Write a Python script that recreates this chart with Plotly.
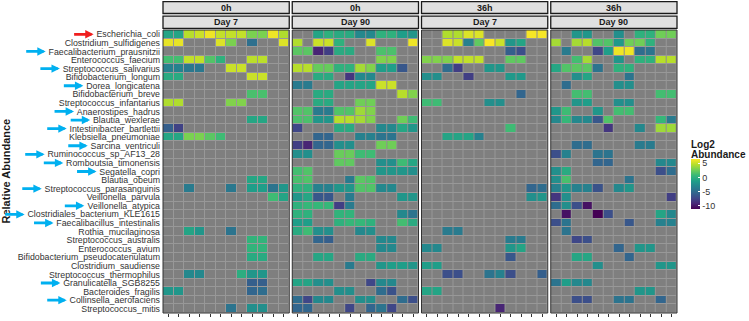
import plotly.graph_objects as go

N = None
species = [
    "Escherichia_coli", "Clostridium_sulfidigenes", "Faecalibacterium_prausnitzii",
    "Enterococcus_faecium", "Streptococcus_salivarius", "Bifidobacterium_longum",
    "Dorea_longicatena", "Bifidobacterium_breve", "Streptococcus_infantarius",
    "Anaerostipes_hadrus", "Blautia_wexlerae", "Intestinibacter_bartlettii",
    "Klebsiella_pneumoniae", "Sarcina_ventriculi", "Ruminococcus_sp_AF13_28",
    "Romboutsia_timonensis", "Segatella_copri", "Blautia_obeum",
    "Streptococcus_parasanguinis", "Veillonella_parvula", "Veillonella_atypica",
    "Clostridiales_bacterium_KLE1615", "Faecalibacillus_intestinalis", "Rothia_mucilaginosa",
    "Streptococcus_australis", "Enterococcus_avium", "Bifidobacterium_pseudocatenulatum",
    "Clostridium_saudiense", "Streptococcus_thermophilus", "Granulicatella_SGB8255",
    "Bacteroides_fragilis", "Collinsella_aerofaciens", "Streptococcus_mitis",
]
blue_arrow = ["Faecalibacterium_prausnitzii", "Streptococcus_salivarius", "Dorea_longicatena",
              "Anaerostipes_hadrus", "Blautia_wexlerae", "Intestinibacter_bartlettii",
              "Sarcina_ventriculi", "Ruminococcus_sp_AF13_28", "Romboutsia_timonensis",
              "Segatella_copri", "Streptococcus_parasanguinis", "Veillonella_atypica",
              "Clostridiales_bacterium_KLE1615", "Faecalibacillus_intestinalis",
              "Granulicatella_SGB8255", "Collinsella_aerofaciens"]
red_arrow = ["Escherichia_coli"]

time_labels = ["0h", "0h", "36h", "36h"]
day_labels = ["Day 7", "Day 90", "Day 7", "Day 90"]
samples = list(range(12))

E = [N] * 12
h0_day7 = [
    [-1, -1, 4.5, 5, 6, 4.8, 4.8, 4.8, 2.8, 2.8, 6, 4.3],
    [5.8, 5.8, N, N, N, 5.5, 2.8, N, -4.8, N, N, 5.5],
    E,
    [1, 1, 4.8, 4.8, 1.5, 0, N, N, 4.6, 4.6, N, N],
    [-3.5, -3.5, -4.2, -4.2, N, N, 5, 5, N, N, N, N],
    [-0.5, -0.5, N, N, N, N, N, N, 5, 5, N, N],
    E,
    [N, N, N, N, N, N, N, N, 1.2, 1.2, N, N],
    [4.3, 4.3, N, N, N, N, 3, 3, N, N, N, N],
    E,
    [N, N, N, N, N, N, N, N, -0.8, -0.8, N, N],
    [-6, -7.8, N, N, N, N, N, N, N, N, N, N],
    [-0.8, -0.8, 2.8, 2.8, 1.8, 0.8, N, N, N, N, N, N],
    E, E, E, E,
    [N, N, N, N, N, N, N, N, -0.8, -0.8, N, N],
    [N, N, -4, N, N, N, -4.2, N, -1.5, -1.5, -4.5, -2],
    [N, N, N, N, N, N, N, N, N, N, 0.8, -1],
    E, E, E,
    [N, N, -1, -2, N, N, -4.5, N, N, N, N, N],
    [N, N, N, N, N, N, N, N, 0.2, 0.2, N, N],
    [N, N, N, N, N, N, N, N, 0.2, 0.2, N, N],
    [N, N, N, N, N, N, N, N, -0.5, -0.5, N, N],
    E,
    [N, N, -3, -3, N, N, N, -0.3, -2, -2, N, N],
    [N, N, N, N, N, N, N, N, -6, -6, N, N],
    [-2, -2, N, N, N, N, N, N, -5.5, -5, N, N],
    E,
    [N, N, N, N, N, N, -4.5, N, -2.5, -2.5, N, N],
]
h0_day90 = [
    [N, N, -1, 0, -0.5, -0.5, -3, -3, 0, 0, -1.5, -2],
    [4.3, N, 5, 5, 0, N, N, 5.5, N, N, N, 6],
    [1.8, 1.8, -9.5, -8, -0.5, -0.5, N, N, 1.3, 1.3, N, N],
    [N, N, N, N, N, N, N, N, 3, 3, N, N],
    [4.5, 4.5, 2.2, 2.2, 0, 0, 4, 3, -1.5, -1.5, -6.5, N],
    [N, N, -0.5, -0.5, N, -8.5, -3, -3, N, N, N, N],
    [-4, -4, N, N, -1, -1, -1, -1, 5, 5, N, N],
    [N, N, -0.5, -0.5, N, N, N, N, N, N, 4.5, 3],
    [N, N, -0.5, -0.5, N, N, 2.5, 2.5, N, N, N, N],
    [1.5, 1.5, -4, -4, 1.5, 1.5, 3.8, 3, N, N, N, N],
    [1.3, 1.3, -2, -2, 4.5, 4.5, 4, 3, N, N, 2.5, 0.8],
    [-7.5, N, N, N, -0.5, -0.5, N, N, -3, -3, -0.8, -2],
    [N, N, -5.5, -5.5, N, N, -3.5, -3.5, -4.5, -4.5, N, N],
    [-8, -9.5, -5.5, -5.5, -2.5, -2.5, N, N, 2.5, 2.5, N, N],
    [-2.5, -2.5, N, N, 2.3, 2.3, 0.8, 0.8, N, N, N, N],
    [N, N, N, N, 2, 2, N, N, -2.5, -2.5, 0.8, -0.8],
    [1, 1.5, N, N, N, N, N, N, -2, -2, -2, -2.5],
    [1.2, 1.5, N, N, N, -4, 1.8, 1.5, N, N, N, N],
    [0, 0, -3.5, -3.5, -2, -2, 1.5, 1.5, -3, -3, N, N],
    [-2, -0.8, -6.5, -6.5, N, -4, N, N, N, N, -2, -2],
    [0, 0.5, 0.5, 0.5, -8, -4, N, N, N, N, N, N],
    [0, 0, N, N, 0.2, 0.2, N, N, N, N, -3, -4.5],
    [-1.5, -1.5, N, N, 0, 0.5, 0.5, 0, N, N, 1, -0.5],
    [-0.5, 0.8, -2.5, -2.5, N, N, -3, -2.5, N, N, N, N],
    [N, N, -5.5, -6, N, N, N, N, -3, -3, N, N],
    [N, N, N, N, N, N, N, N, -3, -3, N, N],
    [N, N, -0.8, -0.8, N, N, -0.5, -0.5, N, N, N, N],
    [N, N, N, N, N, -4, N, N, -2, -1.5, -1.5, -2],
    E,
    [-1, -1, -2.5, -2.5, N, N, N, -7.5, -3, -3, N, N],
    [N, N, N, N, -2.5, -2.5, N, N, -5, -6.8, N, N],
    [-5, -7.5, -3, -3, N, N, -2.5, -2.5, N, N, -5, -7],
    [-5.5, -5.5, N, N, N, -7.5, N, -5.5, -4.5, -7.5, N, N],
]
h36_day7 = [
    [N, N, 4.3, 4.3, 5.5, 5.5, N, N, N, N, 6.2, 6.2],
    [N, N, 5.5, 5, -3.5, 2, 6.3, 5, -2, -1, N, N],
    [N, N, N, N, N, N, N, N, -6, -7, N, N],
    [3, 3, 3, 4.8, 4.8, 4.8, N, N, 2, 2, N, N],
    [N, N, -5, -8, N, N, -2, -2, N, N, N, N],
    [-2.5, -2.5, N, N, -8, N, N, N, -1.8, -1.8, N, N],
    E,
    [N, N, N, N, N, N, N, N, N, -5.5, N, N],
    [0.8, 0.8, N, N, N, N, -2.5, -2.5, N, N, N, N],
    E, E,
    [N, N, N, N, N, N, N, N, 0.8, N, N, N],
    [N, N, -1, -1, -1, -3.5, N, N, N, N, N, N],
    E, E, E, E, E,
    [N, N, N, N, N, N, N, N, N, N, -5.5, -5],
    [N, N, N, N, N, N, N, N, N, N, -2.5, -2],
    E, E, E,
    [N, N, -4, -4, N, N, N, N, N, N, N, N],
    [N, N, N, N, N, N, N, N, -4, -4, N, N],
    [-3, -3, N, N, N, N, N, N, -2, -1, N, N],
    [N, N, N, N, N, N, N, N, -6.5, N, N, N],
    [-1.5, -1.5, N, N, N, N, N, N, N, N, N, N],
    [N, N, -7, -7, N, N, -4.5, -3.5, -7, N, N, -6],
    E,
    [-1, -1, N, N, N, N, N, N, N, N, N, N],
    E,
    [N, N, N, N, N, N, N, -9.5, N, N, N, N],
]
h36_day90 = [
    [N, N, -2, -2, N, N, -2.5, N, 0, 0, 2.5, 2.5],
    [4, N, 4, 4.5, 1.5, 1.5, -1.8, 2.5, 2.5, 0, N, N],
    [N, -4, N, N, -7.5, -1.5, 6, 6, -5, -4.5, N, N],
    [N, N, 1, 4, N, N, -2, N, 0, 0, 4.5, 4.5],
    [-0.8, 1.5, 1.8, 1.8, -4.5, N, 0, 0, N, N, N, N],
    [N, N, -2.5, -1, N, N, N, -4.5, N, N, N, N],
    [N, -5, N, N, N, N, -2.5, -2.5, N, N, N, N],
    [N, N, 1, 1, N, N, N, N, N, N, 1, 1],
    [N, N, -2, -1.5, N, N, -2.5, -2.5, N, N, N, N],
    [-2, 0.8, N, N, -2, N, 1, 1, N, N, N, N],
    [-3, 0.5, -3, -3, -6.5, 1.5, N, N, N, N, 0.5, -4],
    [N, N, N, N, N, -8.5, N, N, -3, N, 3.8, 3.8],
    E,
    [N, N, -5, -5, N, N, N, N, -4, -4, N, N],
    [-7, -3.5, N, N, -4.5, -4.5, N, N, N, N, N, N],
    [N, N, N, N, -5.5, -5.5, N, N, N, N, -3, -3],
    [-2.5, -0.5, N, N, N, N, N, N, N, N, -7, -5],
    [-2.5, 1.2, N, N, N, N, N, -4.5, N, N, N, N],
    [-3.5, -2, -3.5, -3.5, -6.8, N, -3, -2, N, N, N, N],
    [-8.5, -2.5, N, N, N, N, N, N, N, N, N, -8],
    [-5, -2.5, -7, -10.5, N, N, N, N, N, N, N, N],
    [N, -10.5, N, N, -11.3, -7, N, N, N, N, -1, -3],
    [-7, -4.5, N, N, N, N, N, -6.5, N, N, -3.5, -3.5],
    [N, -4.5, N, N, N, N, N, N, N, N, N, N],
    [N, N, -7.5, -7, N, N, N, N, N, N, N, N],
    [N, N, N, N, N, N, -5.5, N, -2, -2, N, N],
    [N, N, -0.8, -0.8, N, N, N, -5.5, N, N, N, N],
    [N, N, N, N, -2.5, N, N, N, N, N, -2, -2],
    E,
    [-4.5, -1.5, -3, -3, N, N, N, N, N, N, N, N],
    [N, N, N, N, N, N, N, N, -2, -2, N, N],
    [N, N, -7, -7, N, N, -4.5, -4.5, N, N, -5.5, N],
    E,
]
panels = [h0_day7, h0_day90, h36_day7, h36_day90]
cbar_ticks = [-10, -5, 0, 5]
cbar_ticktext = ["-10", "-5", "0", "5"]
cbar_title_lines = ["Log2", "Abundance"]

# ---------------- layout geometry (pixels) ----------------
W, H = 749, 321
ML, MR, MT, MB = 163, 72, 30, 5
PW = W - ML - MR
PH = H - MT - MB
GAP = 3
pw = (PW - 3 * GAP) / 4
FONT = "Liberation Sans, Arial, sans-serif"


def py2paper(py):
    return (PH + MT - py) / PH


fig = go.Figure()
rows = list(range(len(species)))
for k, z in enumerate(panels):
    xa = "x" if k == 0 else f"x{k+1}"
    fig.add_trace(go.Heatmap(
        x=samples, y=rows, z=[[0] * 12 for _ in rows],
        colorscale=[[0, "#7f7f7f"], [1, "#7f7f7f"]], showscale=False,
        xgap=1, ygap=1, hoverinfo="skip", xaxis=xa, yaxis="y"))
    fig.add_trace(go.Heatmap(
        x=samples, y=rows, z=z, colorscale="Viridis", zmin=-11.3, zmax=6.4,
        xgap=1, ygap=1, xaxis=xa, yaxis="y", showscale=(k == 0),
        colorbar=dict(
            xref="paper", yref="paper", x=(691 - ML) / PW, xanchor="left",
            y=py2paper(186), yanchor="middle", len=50, lenmode="pixels",
            thickness=9, outlinewidth=0, xpad=0, ypad=0,
            tickvals=cbar_ticks, ticktext=cbar_ticktext, ticks="inside",
            tickcolor="white", ticklen=2,
            tickfont=dict(size=9, color="#333333", family=FONT),
        ) if k == 0 else None))

    d0 = k * (pw + GAP) / PW
    d1 = (k * (pw + GAP) + pw) / PW
    fig.layout[("xaxis" if k == 0 else f"xaxis{k+1}")] = dict(
        domain=[d0, d1], range=[-0.5, 11.5], anchor="y", showgrid=False, zeroline=False,
        tickvals=samples, ticks="outside", ticklen=3, tickcolor="#333333", tickwidth=1,
        showticklabels=False, fixedrange=True)

    xd = f"{xa} domain"
    # panel border
    fig.add_shape(type="rect", xref=xd, yref="y domain", x0=0, x1=1, y0=0, y1=1,
                  line=dict(color="#333333", width=1), layer="above")
    # strips
    for (py0, py1, lab) in [(1.3, 13.3, time_labels[k]), (16, 28.3, day_labels[k])]:
        y0 = py2paper(py1)
        y1 = py2paper(py0)
        fig.add_shape(type="rect", xref=xd, yref="y domain", x0=0, x1=1, y0=y0, y1=y1,
                      fillcolor="#e0e0e0", line=dict(color="#1a1a1a", width=1.3),
                      layer="above")
        fig.add_annotation(xref=xd, yref="y domain", x=0.5, y=(y0 + y1) / 2,
                           xanchor="center", yanchor="middle",
                           text=lab, showarrow=False,
                           font=dict(size=9, color="#1a1a1a", family=FONT, weight=700))

fig.update_layout(
    width=W, height=H, margin=dict(l=ML, r=MR, t=MT, b=MB),
    paper_bgcolor="white", plot_bgcolor="#989898", showlegend=False,
    yaxis=dict(range=[len(species) - 0.5, -0.5], tickvals=rows, ticktext=species,
               ticks="", showgrid=False, zeroline=False, fixedrange=True,
               tickfont=dict(size=8.8, color="#333333", family=FONT),
               ticklabelstandoff=2),
)

# colorbar title (two tight lines)
for line_text, cy in zip(cbar_title_lines, [146, 155.5]):
    fig.add_annotation(xref="paper", yref="paper", x=(689 - ML) / PW, y=py2paper(cy),
                       xanchor="left", yanchor="middle", align="left", showarrow=False,
                       text=line_text,
                       font=dict(size=10, color="#1a1a1a", family=FONT, weight=700))

# y-axis title
fig.add_annotation(xref="paper", yref="paper", x=(5 - ML) / PW, y=0.5, text="Relative Abundance",
                   textangle=-90, showarrow=False, xanchor="center", yanchor="middle",
                   font=dict(size=11, color="#1a1a1a", family=FONT, weight=700))

# arrows next to labels (positions follow text width, Helvetica metrics)
HW = {c: w for c, w in zip("ABCDEFGHIJKLMNOPQRSTUVWXYZ",
      [667, 667, 722, 722, 667, 611, 778, 722, 278, 500, 667, 556, 833, 722, 778, 667, 778, 722, 667, 611, 722, 667, 944, 667, 667, 611])}
HW.update({c: w for c, w in zip("abcdefghijklmnopqrstuvwxyz",
      [556, 556, 500, 556, 556, 278, 556, 556, 222, 222, 500, 222, 833, 556, 556, 556, 556, 333, 500, 278, 556, 500, 722, 500, 500, 500])})
HW.update({c: 556 for c in "0123456789_"})
label_right = ML - 2.3
for name, col in [(n, "#00b0f0") for n in blue_arrow] + [(n, "#f01e1e") for n in red_arrow]:
    tw = sum(HW.get(c, 556) for c in name) * 8.8 / 1000
    tip = label_right - tw - 3.5
    fig.add_annotation(xref="paper", yref="y", x=(tip - ML) / PW, y=species.index(name),
                       ax=-21, ay=0, axref="pixel", ayref="pixel", text="", showarrow=True,
                       arrowhead=2, arrowsize=0.6, arrowwidth=2.8, arrowcolor=col, standoff=0,
                       startstandoff=0)

fig.write_html("out.html")
